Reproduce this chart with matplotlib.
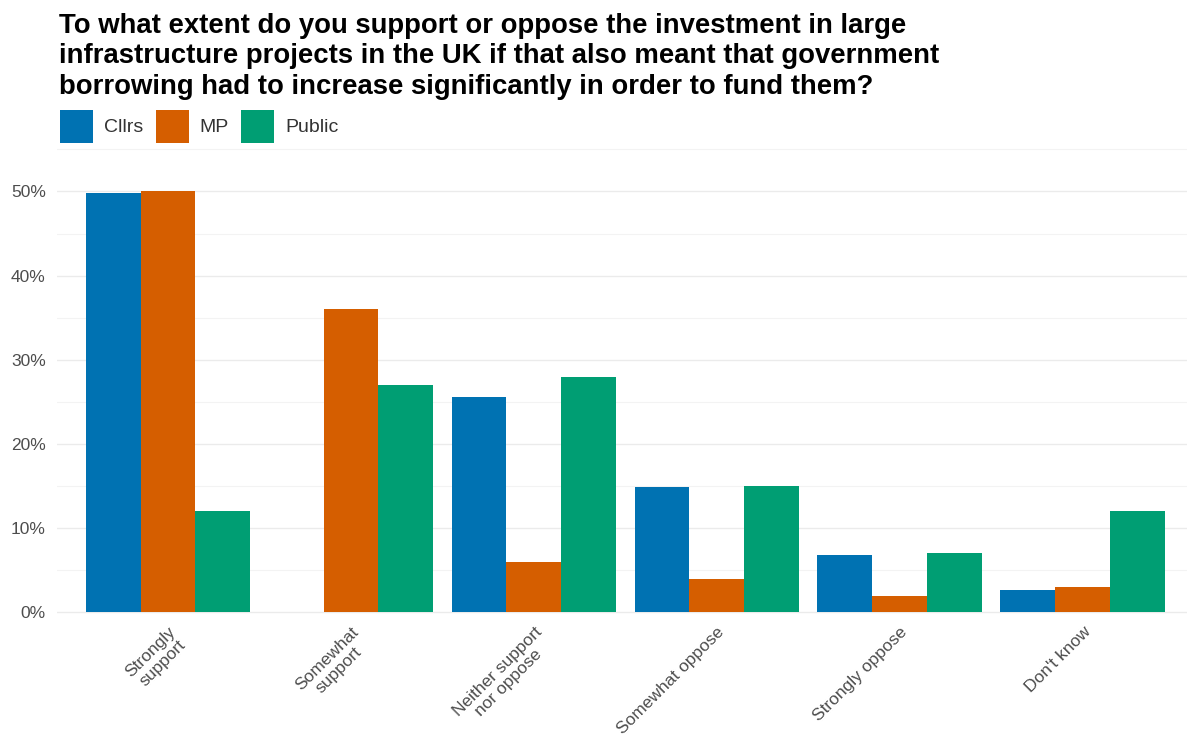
import numpy as np
import matplotlib
matplotlib.use("Agg")
import matplotlib.pyplot as plt
from matplotlib.patches import Patch
from matplotlib.ticker import FuncFormatter, MultipleLocator

# data (percent)
categories = ["Strongly\nsupport", "Somewhat\nsupport", "Neither support\nnor oppose",
              "Somewhat oppose", "Strongly oppose", "Don't know"]
groups = ["Cllrs", "MP", "Public"]
cllrs = [49.8, np.nan, 25.6, 14.9, 6.8, 2.7]
mp = [50, 36, 6, 4, 2, 3]
public = [12, 27, 28, 15, 7, 12]
colors = ["#0072B2", "#D55E00", "#009E73"]

title = ("To what extent do you support or oppose the investment in large\n"
         "infrastructure projects in the UK if that also meant that government\n"
         "borrowing had to increase significantly in order to fund them?")

plt.rcParams['font.family'] = ['Liberation Sans', 'DejaVu Sans']

fig = plt.figure(figsize=(11.87, 7.38), dpi=100)
ax = fig.add_axes([0.048, 0.16, 0.952, 0.641])

x = np.arange(len(categories))
w = 0.9 / 3
for i, vals in enumerate([cllrs, mp, public]):
    ax.bar(x + (i - 1) * w, vals, width=w, color=colors[i], label=groups[i], zorder=3)

ax.set_xlim(-0.607, len(categories) - 0.43)
ax.set_ylim(-0.9, 55.3)
ax.yaxis.set_major_locator(MultipleLocator(10))
ax.yaxis.set_minor_locator(MultipleLocator(5))
ax.yaxis.set_major_formatter(FuncFormatter(lambda v, p: f"{v:.0f}%"))
ax.grid(axis='y', which='major', color='#ebebeb', lw=1.0, zorder=0)
ax.grid(axis='y', which='minor', color='#f3f3f3', lw=0.8, zorder=0)
ax.tick_params(axis='both', which='both', length=0, colors='#4d4d4d', labelsize=12.5)
ax.tick_params(axis='y', pad=8)
for s in ax.spines.values():
    s.set_visible(False)

ax.set_xticks(x)
ax.set_xticklabels(categories, rotation=45, ha='right', va='top',
                   rotation_mode='anchor', ma='center', fontsize=12.5, linespacing=1.1)
ax.tick_params(axis='x', pad=3)

fig.text(0.05, 0.983, title, fontsize=19.8, fontweight='bold', va='top',
         ha='left', linespacing=1.24, color='black')

handles = [Patch(facecolor=c, label=g) for c, g in zip(colors, groups)]
fig.legend(handles=handles, loc='upper left', bbox_to_anchor=(0.0505, 0.851),
           ncol=3, frameon=False, fontsize=14, handlelength=1.7, handleheight=2.23,
           handletextpad=0.55, columnspacing=0.65, labelcolor='#333333',
           borderaxespad=0, borderpad=0)

fig.savefig("out.png", dpi=100, facecolor='white')
